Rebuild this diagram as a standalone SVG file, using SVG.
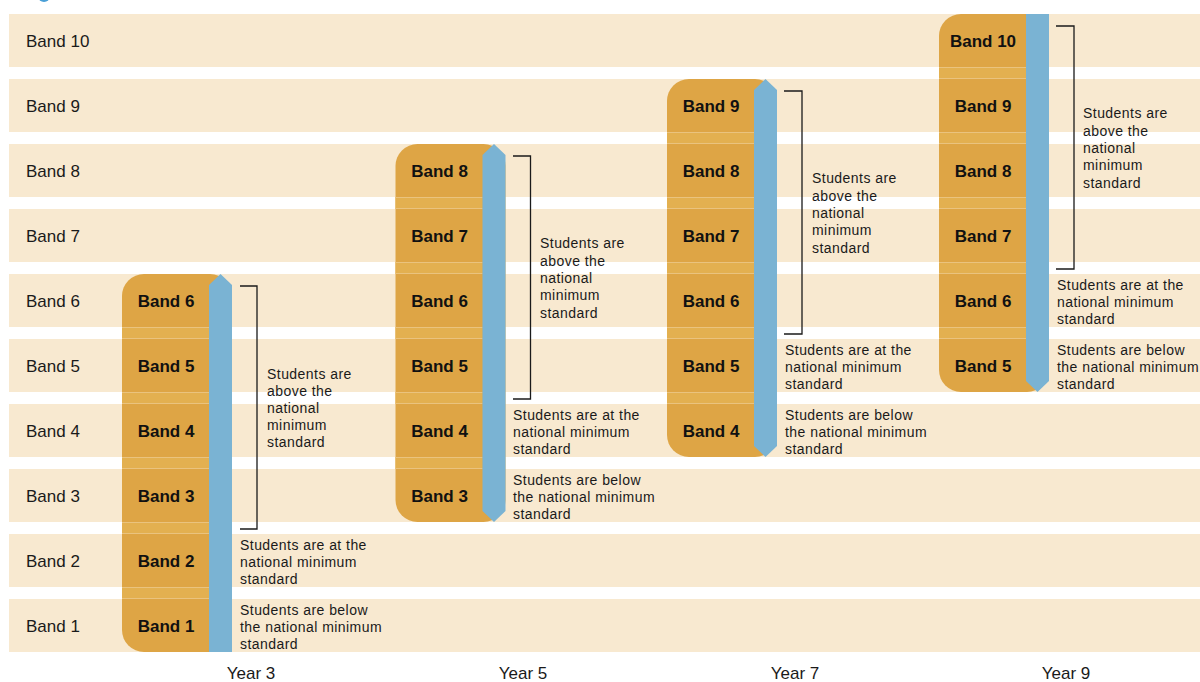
<svg xmlns="http://www.w3.org/2000/svg" width="1200" height="682" viewBox="0 0 1200 682">
<style>
.row{fill:#f8e9d0}
.box{fill:#dea545}
.gap{fill:#e3b050}
.gl{stroke:#eac37e;stroke-width:1}
.bar{fill:#7ab3d3}
.brk{fill:none;stroke:#1a1a1a;stroke-width:1.3}
.lab{font-family:"Liberation Sans",Arial,sans-serif;font-size:17px;fill:#1a1a1a}
.bl{font-family:"Liberation Sans",Arial,sans-serif;font-size:17px;font-weight:bold;fill:#111;text-anchor:middle}
.note{font-family:"Liberation Sans",Arial,sans-serif;font-size:14px;letter-spacing:0.45px;fill:#1a1a1a}
.yr{font-family:"Liberation Sans",Arial,sans-serif;font-size:17px;fill:#1a1a1a;text-anchor:middle}
</style>
<rect width="1200" height="682" fill="#ffffff"/>
<circle cx="44" cy="-4" r="6" fill="#4a9fd6"/>
<g id="rows">
<rect class="row" x="9" y="14" width="1191" height="53"/>
<rect class="row" x="9" y="79" width="1191" height="53"/>
<rect class="row" x="9" y="144" width="1191" height="53"/>
<rect class="row" x="9" y="209" width="1191" height="53"/>
<rect class="row" x="9" y="274" width="1191" height="53"/>
<rect class="row" x="9" y="339" width="1191" height="53"/>
<rect class="row" x="9" y="404" width="1191" height="53"/>
<rect class="row" x="9" y="469" width="1191" height="53"/>
<rect class="row" x="9" y="534" width="1191" height="53"/>
<rect class="row" x="9" y="599" width="1191" height="53"/>
<text class="lab" x="26" y="47">Band 10</text>
<text class="lab" x="26" y="112">Band 9</text>
<text class="lab" x="26" y="177">Band 8</text>
<text class="lab" x="26" y="242">Band 7</text>
<text class="lab" x="26" y="307">Band 6</text>
<text class="lab" x="26" y="372">Band 5</text>
<text class="lab" x="26" y="437">Band 4</text>
<text class="lab" x="26" y="502">Band 3</text>
<text class="lab" x="26" y="567">Band 2</text>
<text class="lab" x="26" y="632">Band 1</text>
</g>
<g id="year3">
<rect class="box" x="122" y="274" width="110" height="378" rx="22"/>
<rect class="gap" x="122" y="327" width="87" height="12"/>
<rect class="gap" x="122" y="392" width="87" height="12"/>
<rect class="gap" x="122" y="457" width="87" height="12"/>
<rect class="gap" x="122" y="522" width="87" height="12"/>
<rect class="gap" x="122" y="587" width="87" height="12"/>
<path class="gl" d="M122 327.5H209M122 338.5H209M122 392.5H209M122 403.5H209M122 457.5H209M122 468.5H209M122 522.5H209M122 533.5H209M122 587.5H209M122 598.5H209"/>
<polygon class="bar" points="209,285 220.5,274 232,285 232,652 209,652"/>
<text class="bl" x="166" y="307">Band 6</text>
<text class="bl" x="166" y="372">Band 5</text>
<text class="bl" x="166" y="437">Band 4</text>
<text class="bl" x="166" y="502">Band 3</text>
<text class="bl" x="166" y="567">Band 2</text>
<text class="bl" x="166" y="632">Band 1</text>
<text class="yr" x="251" y="679">Year 3</text>
</g>
<g id="year5">
<rect class="box" x="395.5" y="144" width="110" height="378" rx="22"/>
<rect class="gap" x="395.5" y="197" width="87" height="12"/>
<rect class="gap" x="395.5" y="262" width="87" height="12"/>
<rect class="gap" x="395.5" y="327" width="87" height="12"/>
<rect class="gap" x="395.5" y="392" width="87" height="12"/>
<rect class="gap" x="395.5" y="457" width="87" height="12"/>
<path class="gl" d="M395.5 197.5H482.5M395.5 208.5H482.5M395.5 262.5H482.5M395.5 273.5H482.5M395.5 327.5H482.5M395.5 338.5H482.5M395.5 392.5H482.5M395.5 403.5H482.5M395.5 457.5H482.5M395.5 468.5H482.5"/>
<polygon class="bar" points="482.5,155 494,144 505.5,155 505.5,511 494,522 482.5,511"/>
<text class="bl" x="439.5" y="177">Band 8</text>
<text class="bl" x="439.5" y="242">Band 7</text>
<text class="bl" x="439.5" y="307">Band 6</text>
<text class="bl" x="439.5" y="372">Band 5</text>
<text class="bl" x="439.5" y="437">Band 4</text>
<text class="bl" x="439.5" y="502">Band 3</text>
<text class="yr" x="523" y="679">Year 5</text>
</g>
<g id="year7">
<rect class="box" x="667" y="79" width="110" height="378" rx="22"/>
<rect class="gap" x="667" y="132" width="87" height="12"/>
<rect class="gap" x="667" y="197" width="87" height="12"/>
<rect class="gap" x="667" y="262" width="87" height="12"/>
<rect class="gap" x="667" y="327" width="87" height="12"/>
<rect class="gap" x="667" y="392" width="87" height="12"/>
<path class="gl" d="M667 132.5H754M667 143.5H754M667 197.5H754M667 208.5H754M667 262.5H754M667 273.5H754M667 327.5H754M667 338.5H754M667 392.5H754M667 403.5H754"/>
<polygon class="bar" points="754,90 765.5,79 777,90 777,446 765.5,457 754,446"/>
<text class="bl" x="711" y="112">Band 9</text>
<text class="bl" x="711" y="177">Band 8</text>
<text class="bl" x="711" y="242">Band 7</text>
<text class="bl" x="711" y="307">Band 6</text>
<text class="bl" x="711" y="372">Band 5</text>
<text class="bl" x="711" y="437">Band 4</text>
<text class="yr" x="795" y="679">Year 7</text>
</g>
<g id="year9">
<rect class="box" x="939" y="14" width="110" height="378" rx="22"/>
<rect class="gap" x="939" y="67" width="87" height="12"/>
<rect class="gap" x="939" y="132" width="87" height="12"/>
<rect class="gap" x="939" y="197" width="87" height="12"/>
<rect class="gap" x="939" y="262" width="87" height="12"/>
<rect class="gap" x="939" y="327" width="87" height="12"/>
<path class="gl" d="M939 67.5H1026M939 78.5H1026M939 132.5H1026M939 143.5H1026M939 197.5H1026M939 208.5H1026M939 262.5H1026M939 273.5H1026M939 327.5H1026M939 338.5H1026"/>
<polygon class="bar" points="1026,14 1049,14 1049,381 1037.5,392 1026,381"/>
<text class="bl" x="983" y="47">Band 10</text>
<text class="bl" x="983" y="112">Band 9</text>
<text class="bl" x="983" y="177">Band 8</text>
<text class="bl" x="983" y="242">Band 7</text>
<text class="bl" x="983" y="307">Band 6</text>
<text class="bl" x="983" y="372">Band 5</text>
<text class="yr" x="1066" y="679">Year 9</text>
</g>
<g id="connectors">
<polyline class="brk" points="240,286 257,286 257,529 240,529"/>
<polyline class="brk" points="513,156 530.5,156 530.5,399 513,399"/>
<polyline class="brk" points="784,91 802,91 802,334 784,334"/>
<polyline class="brk" points="1056,26 1074,26 1074,269 1056,269"/>
</g>
<g id="notes">
<text class="note"><tspan x="267" y="379">Students are</tspan><tspan x="267" y="396">above the</tspan><tspan x="267" y="413">national</tspan><tspan x="267" y="430">minimum</tspan><tspan x="267" y="447">standard</tspan></text>
<text class="note"><tspan x="240" y="550">Students are at the</tspan><tspan x="240" y="567">national minimum</tspan><tspan x="240" y="584">standard</tspan></text>
<text class="note"><tspan x="240" y="615">Students are below</tspan><tspan x="240" y="632">the national minimum</tspan><tspan x="240" y="649">standard</tspan></text>
<text class="note"><tspan x="540" y="248">Students are</tspan><tspan x="540" y="266">above the</tspan><tspan x="540" y="283">national</tspan><tspan x="540" y="300">minimum</tspan><tspan x="540" y="318">standard</tspan></text>
<text class="note"><tspan x="513" y="420">Students are at the</tspan><tspan x="513" y="437">national minimum</tspan><tspan x="513" y="454">standard</tspan></text>
<text class="note"><tspan x="513" y="485">Students are below</tspan><tspan x="513" y="502">the national minimum</tspan><tspan x="513" y="519">standard</tspan></text>
<text class="note"><tspan x="812" y="183">Students are</tspan><tspan x="812" y="201">above the</tspan><tspan x="812" y="218">national</tspan><tspan x="812" y="235">minimum</tspan><tspan x="812" y="253">standard</tspan></text>
<text class="note"><tspan x="785" y="355">Students are at the</tspan><tspan x="785" y="372">national minimum</tspan><tspan x="785" y="389">standard</tspan></text>
<text class="note"><tspan x="785" y="420">Students are below</tspan><tspan x="785" y="437">the national minimum</tspan><tspan x="785" y="454">standard</tspan></text>
<text class="note"><tspan x="1083" y="118">Students are</tspan><tspan x="1083" y="136">above the</tspan><tspan x="1083" y="153">national</tspan><tspan x="1083" y="170">minimum</tspan><tspan x="1083" y="188">standard</tspan></text>
<text class="note"><tspan x="1057" y="290">Students are at the</tspan><tspan x="1057" y="307">national minimum</tspan><tspan x="1057" y="324">standard</tspan></text>
<text class="note"><tspan x="1057" y="355">Students are below</tspan><tspan x="1057" y="372">the national minimum</tspan><tspan x="1057" y="389">standard</tspan></text>
</g>
</svg>
